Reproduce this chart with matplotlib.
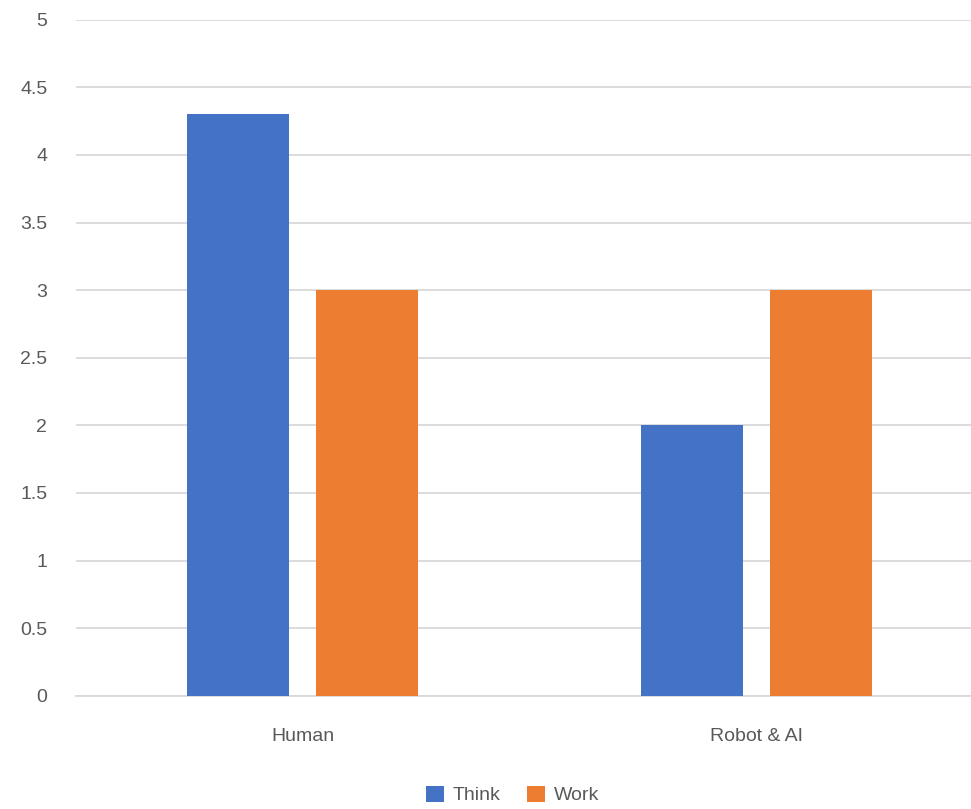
import matplotlib
matplotlib.use("Agg")
import matplotlib.pyplot as plt
from matplotlib.patches import Patch
import numpy as np

categories = ["Human", "Robot & AI"]
series_names = ["Think", "Work"]
think = [4.3, 2.0]
work = [3.0, 3.0]
y_ticks = [0, 0.5, 1, 1.5, 2, 2.5, 3, 3.5, 4, 4.5, 5]
y_tick_labels = ["0", "0.5", "1", "1.5", "2", "2.5", "3", "3.5", "4", "4.5", "5"]

colors = ["#4472C4", "#ED7D31"]
text_color = "#595959"
grid_color = "#D9D9D9"
font_size = 14

plt.rcParams["font.family"] = ["Liberation Sans", "DejaVu Sans"]

W, H = 971, 809
fig = plt.figure(figsize=(W / 100, H / 100), dpi=100)
left, right = 75.8, 983.4
top, bottom = 19.7, 695.7
ax = fig.add_axes([left / W, 1 - bottom / H, (right - left) / W, (bottom - top) / H])

x = np.arange(len(categories))
bar_w = 0.2248
offset = 0.1423
ax.bar(x - offset, think, width=bar_w, color=colors[0], zorder=3)
ax.bar(x + offset, work, width=bar_w, color=colors[1], zorder=3)

ax.set_xlim(-0.5, len(categories) - 0.5)
ax.set_ylim(0, 5)
ax.set_yticks(y_ticks)
ax.set_yticklabels(y_tick_labels)
ax.set_xticks(x)
ax.set_xticklabels(categories)

ax.yaxis.grid(True, color=grid_color, linewidth=1.3, zorder=0)
ax.set_axisbelow(True)
for s in ["top", "right", "left"]:
    ax.spines[s].set_visible(False)
ax.spines["bottom"].set_color(grid_color)
ax.spines["bottom"].set_linewidth(1.3)
ax.spines["bottom"].set_zorder(1)

ax.tick_params(axis="y", length=0, pad=20.5, labelsize=font_size, labelcolor=text_color)
ax.tick_params(axis="x", length=0, pad=23, labelsize=font_size, labelcolor=text_color)

handles = [Patch(facecolor=c, edgecolor="none") for c in colors]
fig.legend(handles, series_names, loc="center", bbox_to_anchor=(512.5 / W, 1 - 795 / H),
           ncol=2, frameon=False, fontsize=font_size, labelcolor=text_color,
           handlelength=0.93, handleheight=0.93, handletextpad=0.45, columnspacing=1.35,
           borderpad=0, borderaxespad=0)

fig.savefig("out.png", dpi=100)
